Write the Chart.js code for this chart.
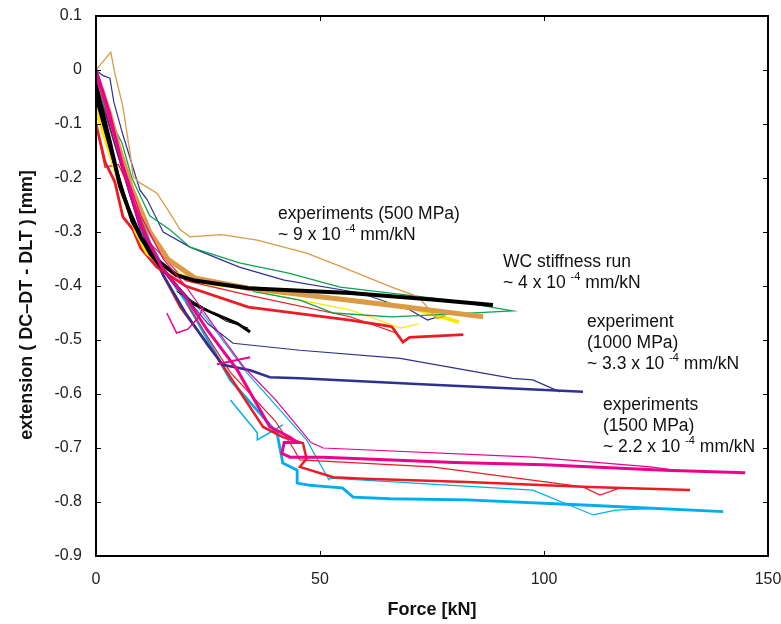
<!DOCTYPE html>
<html>
<head>
<meta charset="utf-8">
<script src="https://cdn.jsdelivr.net/npm/chart.js@4.4.1/dist/chart.umd.min.js"></script>
<style>
  html, body { margin: 0; padding: 0; background: #fff; }
  #wrap { width: 781px; height: 624px; }
</style>
</head>
<body>
<div id="wrap"><canvas id="forceChart" width="781" height="624"></canvas></div>
<script>
// axis ranges / ticks
const xTicks = [0, 50, 100, 150];
const yTicks = [0.1, 0, -0.1, -0.2, -0.3, -0.4, -0.5, -0.6, -0.7, -0.8, -0.9];

// 500 MPa runs: [force kN, extension mm]
const orangeThin = [[0,0],[1.5,0.015],[3.3,0.033],[4.2,-0.006],[6,-0.068],[7.6,-0.154],[8.3,-0.198],[10,-0.21],[13.6,-0.228],[16.5,-0.265],[18.8,-0.296],[21,-0.309],[28,-0.305],[36,-0.315],[47,-0.339],[55,-0.365],[66,-0.402],[72,-0.42],[76,-0.46],[78,-0.455]];
const orangeThick = [[1,-0.03],[3,-0.08],[5,-0.14],[8,-0.22],[12,-0.3],[16,-0.35],[22,-0.385],[34,-0.404],[50,-0.42],[70,-0.44],[86.4,-0.457]];
const blackThick = [[0,-0.03],[3,-0.13],[5.4,-0.216],[7.6,-0.265],[10,-0.31],[13.6,-0.352],[18,-0.38],[22,-0.39],[34,-0.404],[56.7,-0.413],[75,-0.425],[88.6,-0.435]];
const blackShort = [[0,-0.05],[4,-0.17],[8,-0.28],[12,-0.34],[16,-0.38],[21,-0.43],[26,-0.45],[31.5,-0.469],[34.4,-0.485]];
const blackThin = [[18,-0.41],[24,-0.44],[29,-0.465],[34,-0.478]];
const greenThin = [[0,-0.03],[3,-0.09],[5.8,-0.135],[8,-0.2],[12,-0.27],[16.5,-0.296],[21,-0.328],[32,-0.357],[43,-0.376],[54.5,-0.402],[79,-0.426],[93,-0.446],[79,-0.452],[66,-0.457],[53,-0.45],[45.5,-0.426],[35,-0.41]];
const navyThin500 = [[0,0],[1.5,-0.01],[3.1,-0.015],[4,-0.06],[6,-0.12],[9.8,-0.222],[11.4,-0.24],[15,-0.3],[21,-0.328],[32,-0.365],[42,-0.389],[59,-0.413],[70,-0.444],[74,-0.463],[79,-0.45],[83,-0.452]];
const yellowThick = [[0,-0.07],[1,-0.1],[3,-0.15],[6,-0.23],[9,-0.3],[11.4,-0.339],[17.2,-0.376],[25,-0.395],[40,-0.41],[56.7,-0.426],[70,-0.439],[81,-0.467]];
const yellowThin = [[20,-0.38],[34,-0.407],[56.7,-0.444],[68,-0.478],[72,-0.47]];
const redThick500 = [[0,-0.1],[2,-0.17],[4.2,-0.207],[6,-0.272],[8.3,-0.296],[10,-0.33],[13.6,-0.365],[20,-0.4],[34,-0.439],[56.7,-0.463],[66,-0.475],[68.5,-0.504],[70,-0.495],[82,-0.49]];
const redThin500 = [[0,-0.1],[2,-0.18],[5,-0.175],[7,-0.21],[12,-0.32],[20,-0.39],[34,-0.417],[56.7,-0.457],[67,-0.487],[68.5,-0.504]];

// 1000 MPa run
const navyThick1000 = [[0,0],[2,-0.05],[5,-0.15],[10,-0.29],[15,-0.38],[20,-0.45],[25,-0.51],[28.3,-0.546],[34.4,-0.556],[38.8,-0.569],[45.5,-0.571],[75,-0.583],[108.7,-0.596]];
const navyThin1000 = [[0,-0.02],[5,-0.16],[10,-0.3],[15,-0.37],[20,-0.42],[25,-0.47],[30.6,-0.506],[45.5,-0.519],[67.9,-0.534],[93,-0.571],[97.5,-0.574],[103.6,-0.596]];

// 1500 MPa runs
const pinkThick = [[0,0],[3,-0.08],[6,-0.18],[10,-0.29],[15,-0.37],[20,-0.42],[24.8,-0.481],[31.5,-0.555],[38.8,-0.661],[43.3,-0.68],[45,-0.69],[42,-0.69],[41.5,-0.71],[43.3,-0.717],[50.7,-0.717],[80,-0.727],[100,-0.731],[127,-0.741],[144.9,-0.746]];
const pinkThin = [[0,-0.01],[5,-0.15],[10,-0.27],[15,-0.35],[20,-0.4],[26,-0.47],[33,-0.55],[40,-0.61],[45,-0.66],[48,-0.69],[50.7,-0.7],[97.5,-0.717],[123.7,-0.735],[130,-0.742]];
const pinkShort = [[15.8,-0.45],[18,-0.487],[20.5,-0.48],[23,-0.457],[24,-0.439]];
const pinkBit = [[27,-0.545],[34.4,-0.532]];
const redThick1500 = [[0,-0.02],[4,-0.13],[8,-0.24],[12,-0.33],[15,-0.38],[18.8,-0.439],[27,-0.531],[37.3,-0.661],[41.7,-0.68],[46.2,-0.691],[47,-0.72],[45.5,-0.735],[53,-0.754],[60,-0.757],[82.8,-0.763],[110,-0.772],[132.6,-0.778]];
const redThin1500 = [[20,-0.43],[30,-0.56],[40,-0.65],[44,-0.7],[45.5,-0.722],[75,-0.735],[108.7,-0.772],[112.5,-0.787],[117,-0.774],[125,-0.776]];
const cyanThick = [[0,-0.01],[4,-0.12],[8,-0.23],[12,-0.32],[16,-0.38],[20.3,-0.431],[30,-0.574],[40.4,-0.672],[41.7,-0.728],[44.9,-0.741],[44.9,-0.765],[47.8,-0.769],[52,-0.772],[55,-0.774],[57.4,-0.791],[65.6,-0.794],[82.8,-0.796],[110,-0.806],[140,-0.818]];
const cyanThin = [[0,-0.03],[5,-0.15],[10,-0.28],[15,-0.37],[23.2,-0.444],[33.7,-0.561],[47,-0.685],[52,-0.759],[52.2,-0.756],[97.5,-0.778],[111,-0.824],[116,-0.815],[125,-0.812]];
const cyanShort = [[30,-0.611],[36,-0.672],[36,-0.685],[41.7,-0.657]];

const ORANGE = "#DB9A45", BLACK = "#000000", GREEN = "#12A150", NAVY = "#2E3192",
  YELLOW = "#FFE600", RED = "#ED1C24", PINK = "#EC008C", CYAN = "#00AEEF";

function series(pts, color, width) {
  return {
    data: pts.map(p => ({ x: p[0], y: p[1] })),
    borderColor: color,
    backgroundColor: color,
    borderWidth: width,
    showLine: true,
    pointRadius: 0,
    tension: 0,
    fill: false
  };
}

// first dataset is drawn on top
const datasets = [
  series(pinkThick, PINK, 3),
  series(pinkThin, PINK, 1.2),
  series(pinkShort, PINK, 1.5),
  series(pinkBit, PINK, 2),
  series(blackThick, BLACK, 4),
  series(blackShort, BLACK, 3),
  series(blackThin, BLACK, 1),
  series(orangeThick, ORANGE, 5),
  series(orangeThin, ORANGE, 1.3),
  series(greenThin, GREEN, 1.3),
  series(yellowThick, YELLOW, 4),
  series(yellowThin, YELLOW, 1.3),
  series(navyThin500, NAVY, 1.2),
  series(redThick500, RED, 2.8),
  series(redThin500, RED, 1.2),
  series(navyThick1000, NAVY, 2.5),
  series(navyThin1000, NAVY, 1.2),
  series(redThick1500, RED, 2.5),
  series(redThin1500, RED, 1.2),
  series(cyanThick, CYAN, 2.8),
  series(cyanThin, CYAN, 1.2),
  series(cyanShort, CYAN, 1.5)
];

const notes = [
  { x: 278, y: 214, lines: ["experiments (500 MPa)", ["~ 9 x 10 ", "-4", " mm/kN"]] },
  { x: 503, y: 262, lines: ["WC stiffness run", ["~ 4 x 10 ", "-4", " mm/kN"]] },
  { x: 587, y: 322, lines: ["experiment", "(1000 MPa)", ["~ 3.3 x 10 ", "-4", " mm/kN"]] },
  { x: 603, y: 405, lines: ["experiments", "(1500 MPa)", ["~ 2.2 x 10 ", "-4", " mm/kN"]] }
];

const FONT = "'Liberation Sans', Arial, sans-serif";

const framePlugin = {
  id: "frame",
  afterDraw(chart) {
    const ctx = chart.ctx;
    const a = chart.chartArea;
    const xs = chart.scales.x, ys = chart.scales.y;
    ctx.save();
    ctx.strokeStyle = "#000";
    ctx.lineWidth = 2;
    ctx.strokeRect(a.left, a.top, a.right - a.left, a.bottom - a.top);
    ctx.lineWidth = 1;
    ctx.beginPath();
    yTicks.forEach(v => {
      const py = Math.round(ys.getPixelForValue(v)) + 0.5;
      ctx.moveTo(a.left, py); ctx.lineTo(a.left + 5, py);
      ctx.moveTo(a.right, py); ctx.lineTo(a.right - 5, py);
    });
    xTicks.forEach(v => {
      const px = Math.round(xs.getPixelForValue(v)) + 0.5;
      ctx.moveTo(px, a.bottom); ctx.lineTo(px, a.bottom - 5);
      ctx.moveTo(px, a.top); ctx.lineTo(px, a.top + 5);
    });
    ctx.stroke();

    // axis titles
    ctx.fillStyle = "#111";
    ctx.font = "bold 18px " + FONT;
    ctx.textAlign = "center";
    ctx.textBaseline = "middle";
    ctx.fillText("Force [kN]", (a.left + a.right) / 2, 610);
    ctx.save();
    ctx.translate(27, 305);
    ctx.rotate(-Math.PI / 2);
    ctx.fillText("extension ( DC\u2013DT - DLT ) [mm]", 0, 0);
    ctx.restore();

    // annotations
    ctx.textAlign = "left";
    notes.forEach(n => {
      n.lines.forEach((ln, i) => {
        const y = n.y + i * 21;
        ctx.font = "17.5px " + FONT;
        if (typeof ln === "string") {
          ctx.fillText(ln, n.x, y);
        } else {
          let x = n.x;
          ctx.fillText(ln[0], x, y);
          x += ctx.measureText(ln[0]).width;
          ctx.font = "11px " + FONT;
          ctx.fillText(ln[1], x, y - 6);
          x += ctx.measureText(ln[1]).width;
          ctx.font = "17.5px " + FONT;
          ctx.fillText(ln[2], x, y);
        }
      });
    });
    ctx.restore();
  }
};

const ctx = document.getElementById("forceChart").getContext("2d");
new Chart(ctx, {
  type: "scatter",
  data: { datasets: datasets },
  options: {
    responsive: false,
    animation: false,
    layout: { padding: { top: 16, right: 13, left: 0, bottom: 0 } },
    plugins: { legend: { display: false }, tooltip: { enabled: false } },
    scales: {
      x: {
        type: "linear",
        min: 0, max: 150,
        afterFit: s => { s.height = 68; s.paddingLeft = 0; s.paddingRight = 0; },
        afterBuildTicks: s => { s.ticks = xTicks.map(v => ({ value: v })); },
        grid: { display: false, drawTicks: false },
        border: { display: false },
        ticks: { padding: 14, color: "#222", font: { family: FONT, size: 16 }, maxRotation: 0, autoSkip: false }
      },
      y: {
        type: "linear",
        min: -0.9, max: 0.1,
        afterFit: s => { s.width = 96; s.paddingTop = 0; s.paddingBottom = 0; },
        afterBuildTicks: s => { s.ticks = yTicks.map(v => ({ value: v })); },
        grid: { display: false, drawTicks: false },
        border: { display: false },
        ticks: {
          padding: 14, color: "#222", font: { family: FONT, size: 16 }, autoSkip: false,
          callback: v => (Math.abs(v) < 1e-9 ? "0" : v.toFixed(1))
        }
      }
    }
  },
  plugins: [framePlugin]
});
</script>
</body>
</html>
